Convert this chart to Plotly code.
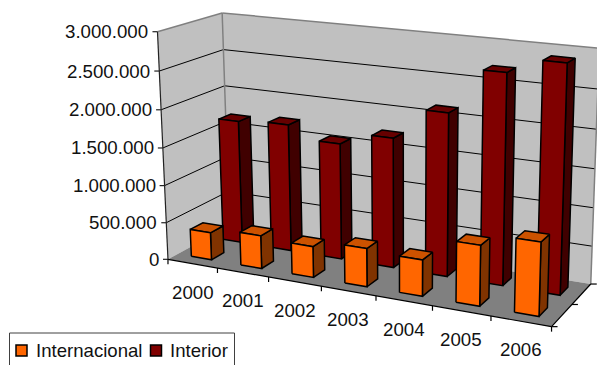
import numpy as np
import plotly.graph_objects as go

# Chart data
years = ["2000", "2001", "2002", "2003", "2004", "2005", "2006"]
internacional = [370000, 440000, 410000, 500000, 470000, 770000, 925000]
interior = [1680000, 1720000, 1555000, 1720000, 2130000, 2710000, 2900000]
value_ticks = [0, 500000, 1000000, 1500000, 2000000, 2500000, 3000000]
value_labels = ["0", "500.000", "1.000.000", "1.500.000", "2.000.000", "2.500.000", "3.000.000"]

W, H = 597, 365
N_CAT = len(years)
N_SER = 2
VMAX = 3000000
FONT_FAMILY = "Liberation Sans, Arial, sans-serif"
TEXT_COLOR = "#111111"

# Perspective camera, calibrated from the plot box: (category, series, value) -> (px, py)
box_model = [(0, 0, 0), (7, 0, 0), (0, 2, 0), (7, 2, 0),
             (0, 0, VMAX), (0, 2, VMAX), (7, 2, VMAX)]
box_screen = [(168.3, 259.0), (551.7, 326.7), (229.0, 226.0), (590.7, 284.0),
              (157.0, 32.0), (222.7, 12.7), (599.2, 48.2)]


def fit_camera(model, screen):
    rows, rhs = [], []
    for (a, b, c), (px, py) in zip(model, screen):
        a, b, c = a / N_CAT, b / N_SER, c / VMAX
        rows.append([a, b, c, 1, 0, 0, 0, 0, -px * a, -px * b, -px * c])
        rows.append([0, 0, 0, 0, a, b, c, 1, -py * a, -py * b, -py * c])
        rhs += [px, py]
    sol = np.linalg.lstsq(np.array(rows), np.array(rhs), rcond=None)[0]
    return np.append(sol, 1.0).reshape(3, 4)


CAMERA = fit_camera(box_model, box_screen)


def project(cat, ser, val):
    p = CAMERA @ np.array([cat / N_CAT, ser / N_SER, val / VMAX, 1.0])
    return float(p[0] / p[2]), float(p[1] / p[2])


fig = go.Figure()


def polygon(points, fill, line="black", width=1.5):
    xs, ys = zip(*(points + points[:1]))
    fig.add_trace(go.Scatter(x=xs, y=ys, mode="lines", fill="toself", fillcolor=fill,
                             line=dict(color=line, width=width), hoverinfo="skip",
                             showlegend=False))


def segment(a, b, color="black", width=1.0):
    fig.add_trace(go.Scatter(x=[a[0], b[0]], y=[a[1], b[1]], mode="lines",
                             line=dict(color=color, width=width), hoverinfo="skip",
                             showlegend=False))


# Walls and floor
polygon([project(0, 0, 0), project(0, 2, 0), project(0, 2, VMAX), project(0, 0, VMAX)], "#C0C0C0", "#C0C0C0", 0)
polygon([project(0, 2, 0), project(7, 2, 0), project(7, 2, VMAX), project(0, 2, VMAX)], "#C0C0C0", "#C0C0C0", 0)
polygon([project(0, 0, 0), project(7, 0, 0), project(7, 2, 0), project(0, 2, 0)], "#808080", "#808080", 0)

# Gridlines along both walls
for v in value_ticks[1:-1]:
    segment(project(0, 0, v), project(0, 2, v))
    segment(project(0, 2, v), project(7, 2, v))

# Wall outlines
segment(project(0, 0, VMAX), project(0, 2, VMAX), "#808080", 1.5)
segment(project(0, 2, VMAX), project(7, 2, VMAX), "#808080", 1.5)
segment(project(0, 2, 0), project(0, 2, VMAX), "#808080", 1.5)
segment(project(7, 2, 0), project(7, 2, VMAX), "#808080", 1.5)

# Axes and tick marks
segment(project(0, 0, 0), project(0, 0, VMAX), "#222222", 1.2)
segment(project(0, 0, 0), project(7, 0, 0), "black", 1.2)
segment(project(7, 0, 0), project(7, 2, 0), "black", 1.2)
for v in value_ticks:
    x, y = project(0, 0, v)
    segment((x - 5, y), (x, y), "#222222", 1.2)
for c in range(N_CAT + 1):
    x, y = project(c, 0, 0)
    segment((x, y), (x, y + 5), "black", 1.2)
for s in range(N_SER + 1):
    x, y = project(7, s, 0)
    segment((x, y), (x + 6, y), "black", 1.2)


def bar(cat, ser, value, front, side, top, u0, u1):
    u0, u1 = cat + u0, cat + u1
    v0, v1 = ser + 0.3, ser + 0.7
    polygon([project(u1, v0, 0), project(u1, v1, 0), project(u1, v1, value), project(u1, v0, value)], side)
    polygon([project(u0, v0, value), project(u1, v0, value), project(u1, v1, value), project(u0, v1, value)], top)
    polygon([project(u0, v0, 0), project(u1, v0, 0), project(u1, v0, value), project(u0, v0, value)], front)


# Rear series first so the front row overlaps it
for i, v in enumerate(interior):
    bar(i, 1, v, "#800000", "#400000", "#660000", 0.3, 0.7)
for i, v in enumerate(internacional):
    bar(i, 0, v, "#FF6600", "#803300", "#CC5200", 0.28, 0.69)

annotations = []


def label(x, y, text, anchor, size):
    annotations.append(dict(x=x, y=y, xref="x", yref="y", text=text, showarrow=False,
                            xanchor=anchor, yanchor="middle", borderpad=0,
                            font=dict(family=FONT_FAMILY, size=size, color=TEXT_COLOR)))


for v, t in zip(value_ticks, value_labels):
    x, y = project(0, 0, v)
    label(x - 8, y, t, "right", 18.7)
for i, t in enumerate(years):
    x, y = project(i + 0.5, 0, 0)
    label(x, y + 28.5, t, "center", 18.7)

# Legend
shapes = [
    dict(type="rect", xref="x", yref="y", x0=9.5, x1=234.5, y0=333, y1=366,
         line=dict(color="#404040", width=1), fillcolor="white"),
    dict(type="rect", xref="x", yref="y", x0=16, x1=27, y0=345, y1=356,
         line=dict(color="black", width=1.5), fillcolor="#FF6600"),
    dict(type="rect", xref="x", yref="y", x0=150.5, x1=161.5, y0=345, y1=356,
         line=dict(color="black", width=1.5), fillcolor="#800000"),
]
label(34.5, 350, "Internacional", "left", 18.6)
label(168.5, 350, "Interior", "left", 18.6)

fig.update_layout(
    width=W, height=H, margin=dict(l=0, r=0, t=0, b=0),
    paper_bgcolor="white", plot_bgcolor="white",
    xaxis=dict(range=[0, W], visible=False, fixedrange=True),
    yaxis=dict(range=[H, 0], visible=False, fixedrange=True),
    annotations=annotations, shapes=shapes, showlegend=False,
)
fig.write_html("out.html", config=dict(displayModeBar=False))
